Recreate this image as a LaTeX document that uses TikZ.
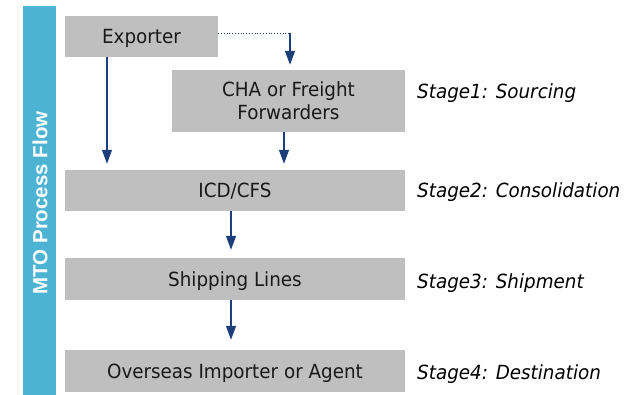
\documentclass[tikz,border=0pt]{standalone}
\usepackage{fontspec}
\setmainfont{DejaVu Sans}[FakeStretch=0.94]
\newfontfamily\barfont{Liberation Sans}
\usetikzlibrary{arrows.meta}
\definecolor{barblue}{HTML}{4DB3D3}
\definecolor{boxgray}{HTML}{BFBFBF}
\definecolor{flowblue}{HTML}{1C3F7C}
\tikzset{
  stagebox/.style={rectangle, fill=boxgray, inner sep=0pt, align=center,
    text=black!90, text depth=0pt, font=\fontsize{19.5}{23}\selectfont},
  stagelabel/.style={anchor=west, inner sep=0pt, text depth=0pt,
    font=\fontsize{19.5}{23}\selectfont\itshape},
  flow/.style={draw=flowblue, line width=1.2pt,
    -{Triangle[width=10pt,length=14pt]}, shorten >=6pt},
}
\begin{document}
\begin{tikzpicture}[x=1pt,y=-1pt]
\useasboundingbox (0,0) rectangle (640,395);

% side bar
\fill[barblue] (23,6) rectangle (56,395);
\node[rotate=90, text=white, font=\barfont\bfseries\fontsize{20.5}{24}\selectfont] (bar) at (40,203){MTO Process Flow};

% boxes
\node[stagebox, minimum width=153pt, minimum height=41pt] (exporter) at (141.5,36.5){Exporter};
\node[stagebox, minimum width=233pt, minimum height=62pt] (cha) at (288.5,101){CHA or Freight\\Forwarders};
\node[stagebox, minimum width=340pt, minimum height=41pt] (icd) at (235,190.5){ICD/CFS};
\node[stagebox, minimum width=340pt, minimum height=42pt] (ship) at (235,279){Shipping Lines};
\node[stagebox, minimum width=340pt, minimum height=42pt] (importer) at (235,371){Overseas Importer or Agent};

% stage names
\node[stagelabel] (st1) at (417,91){Stage1: Sourcing};
\node[stagelabel] (st2) at (417,190){Stage2: Consolidation};
\node[stagelabel] (st3) at (417,281){Stage3: Shipment};
\node[stagelabel] (st4) at (417,372){Stage4: Destination};

% connectors
\coordinate (bend) at (290,33);
\draw[flowblue, line width=0.8pt, dotted] (exporter.east |- bend) -- (bend);
\draw[flow, shorten >=5pt] (bend) -- (bend |- cha.north);
\draw[flow] ([xshift=-34.5pt]exporter.south) -- ([xshift=-34.5pt]exporter.south |- icd.north);
\draw[flow] ([xshift=-4.5pt]cha.south) -- ([xshift=-4.5pt]cha.south |- icd.north);
\draw[flow, shorten >=8pt] ([xshift=-4pt]icd.south) -- ([xshift=-4pt]ship.north);
\draw[flow, shorten >=10pt] ([xshift=-4pt]ship.south) -- ([xshift=-4pt]importer.north);

\end{tikzpicture}
\end{document}
